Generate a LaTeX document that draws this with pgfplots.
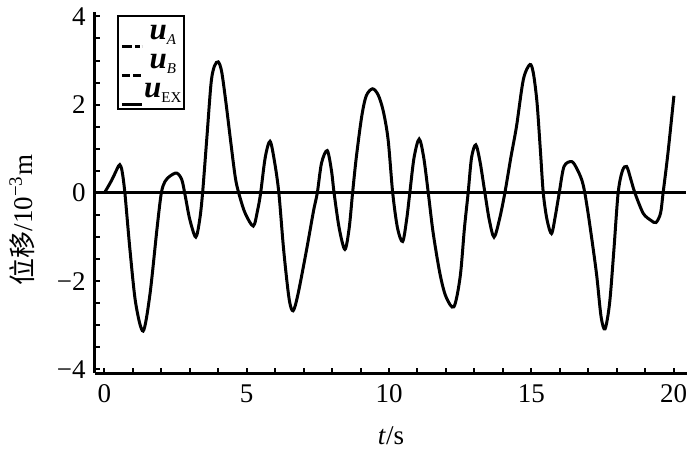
\documentclass[border=0pt]{standalone}
\usepackage{fontspec}
\setmainfont{Liberation Serif}
\newfontfamily\cjk{Noto Sans CJK SC}
\usepackage{pgfplots}
\pgfplotsset{compat=1.18}
\newcommand\lu{{\fontsize{15.5}{15.5}\selectfont\textbf{\textit{u}}}}
\newcommand\lsub[1]{\raisebox{-2.8pt}{\fontsize{7.5}{7.5}\selectfont #1}}
\begin{document}
\fontsize{13.5}{16}\selectfont
\begin{tikzpicture}
\path[use as bounding box] (-47.5pt,-47pt) rectangle (302.5pt,186.5pt);
\begin{axis}[
  scale only axis,
  width=296pt, height=180.5pt,
  xmin=-0.33, xmax=20.47,
  ymin=-4.08, ymax=4.1,
  axis lines=left,
  axis line style={-, line width=1.5pt},
  tick align=inside,
  xtick={0,5,10,15,20},
  minor xtick={1,2,3,4,6,7,8,9,11,12,13,14,16,17,18,19},
  ytick={-4,-2,0,2,4},
  yticklabels={−4,−2,0,2,4},
  minor ytick={-3.5,-3,-2.5,-1.5,-1,-0.5,0.5,1,1.5,2.5,3,3.5},
  major tick length=2.6pt,
  minor tick length=2.4pt,
  every tick/.style={black, line width=1pt},
  tick label style={font=\fontsize{13.5}{16}\selectfont},
  /pgf/number format/assume math mode=true,
  xticklabel style={yshift=-1pt},
  xlabel={\textit{t}/s},
  xlabel style={at={(axis description cs:0.5,0)}, anchor=center, yshift=-31.5pt},
  ylabel={{\cjk 位移}/10\textsuperscript{−3}m},
  ylabel style={at={(axis description cs:0,0.424)}, anchor=center, yshift=36.5pt},
  label style={font=\fontsize{13.5}{16}\selectfont},
  legend image code/.code={\draw[#1, line width=1.6pt] (0pt,-3.5pt) -- (10pt,-3.5pt);},
  legend style={at={(axis description cs:0,1)}, anchor=north west, xshift=11pt, yshift=-1.5pt,
    draw=black, line width=1.2pt, inner xsep=1pt, inner ysep=1.5pt,
    row sep=0pt, column sep=0pt,
    nodes={inner xsep=0.4pt, inner ysep=0pt, text height=10pt, text depth=4.5pt, anchor=base}},
  legend cell align=left,
]
\addlegendimage{black, dash pattern=on 5pt off 1.7pt on 2.3pt off 1pt}
\addlegendimage{black, dash pattern=on 4pt off 1.8pt on 4pt off 1pt}
\addlegendentry{\lu\lsub{\textit{A}}}
\addlegendentry{\lu\lsub{\textit{B}}}
\addplot[black, line width=1.5pt, forget plot] coordinates {(-0.33,0) (20.45,0)};
\addplot[black, line width=1.5pt, smooth] coordinates {
(0,0) (0.25,0.28) (0.45,0.55) (0.54,0.64) (0.62,0.5) (0.72,0) (0.9,-1.3) (1.1,-2.5) (1.36,-3.13) (1.6,-2.3) (1.85,-0.8) (2.0,0) (2.13,0.26) (2.3,0.38) (2.54,0.45) (2.72,0.3) (2.85,-0.1) (3.0,-0.6) (3.21,-1.0) (3.35,-0.6) (3.45,0)
(3.6,1.25) (3.75,2.5) (3.87,2.88) (4.0,2.97) (4.12,2.75) (4.27,2.05) (4.45,1.1) (4.6,0.35) (4.72,0)
(4.94,-0.45) (5.23,-0.75) (5.38,-0.4) (5.49,0) (5.65,0.8) (5.82,1.17) (5.98,0.7) (6.13,0) (6.3,-1.3) (6.49,-2.4) (6.63,-2.67) (6.8,-2.3) (7.1,-1.3) (7.35,-0.4) (7.48,0) (7.63,0.68) (7.83,0.96) (7.98,0.5) (8.07,0) (8.25,-0.8) (8.45,-1.28) (8.6,-0.8) (8.72,0) (8.85,0.8) (9.04,1.73) (9.2,2.2) (9.42,2.36) (9.62,2.22) (9.8,1.85) (9.97,1.2) (10.13,0) (10.3,-0.8) (10.48,-1.1) (10.62,-0.6) (10.73,0) (10.88,0.8) (11.06,1.22) (11.22,0.8) (11.38,0) (11.55,-0.9) (11.79,-1.83) (12.0,-2.35) (12.28,-2.58) (12.5,-1.9) (12.65,-0.8) (12.78,0) (12.9,0.8) (13.05,1.09) (13.2,0.7) (13.37,0) (13.52,-0.6) (13.69,-1.0) (13.88,-0.6) (14.07,0) (14.28,0.8) (14.48,1.51) (14.72,2.57) (14.95,2.91) (15.07,2.72) (15.2,2.05) (15.32,0.95) (15.42,0) (15.55,-0.6) (15.71,-0.92) (15.85,-0.5) (15.98,0) (16.15,0.6) (16.42,0.71) (16.6,0.55) (16.77,0.3) (16.88,0) (17.05,-0.7) (17.29,-1.83) (17.45,-2.8) (17.59,-3.08) (17.75,-2.5) (17.9,-1.3) (18.05,0) (18.2,0.5) (18.35,0.6) (18.5,0.3) (18.64,0) (18.93,-0.46) (19.2,-0.62) (19.38,-0.67) (19.54,-0.46) (19.63,0) (19.8,0.9) (20.01,2.2)
};
\addlegendentry{\lu\lsub{EX}}
\end{axis}
\end{tikzpicture}
\end{document}
